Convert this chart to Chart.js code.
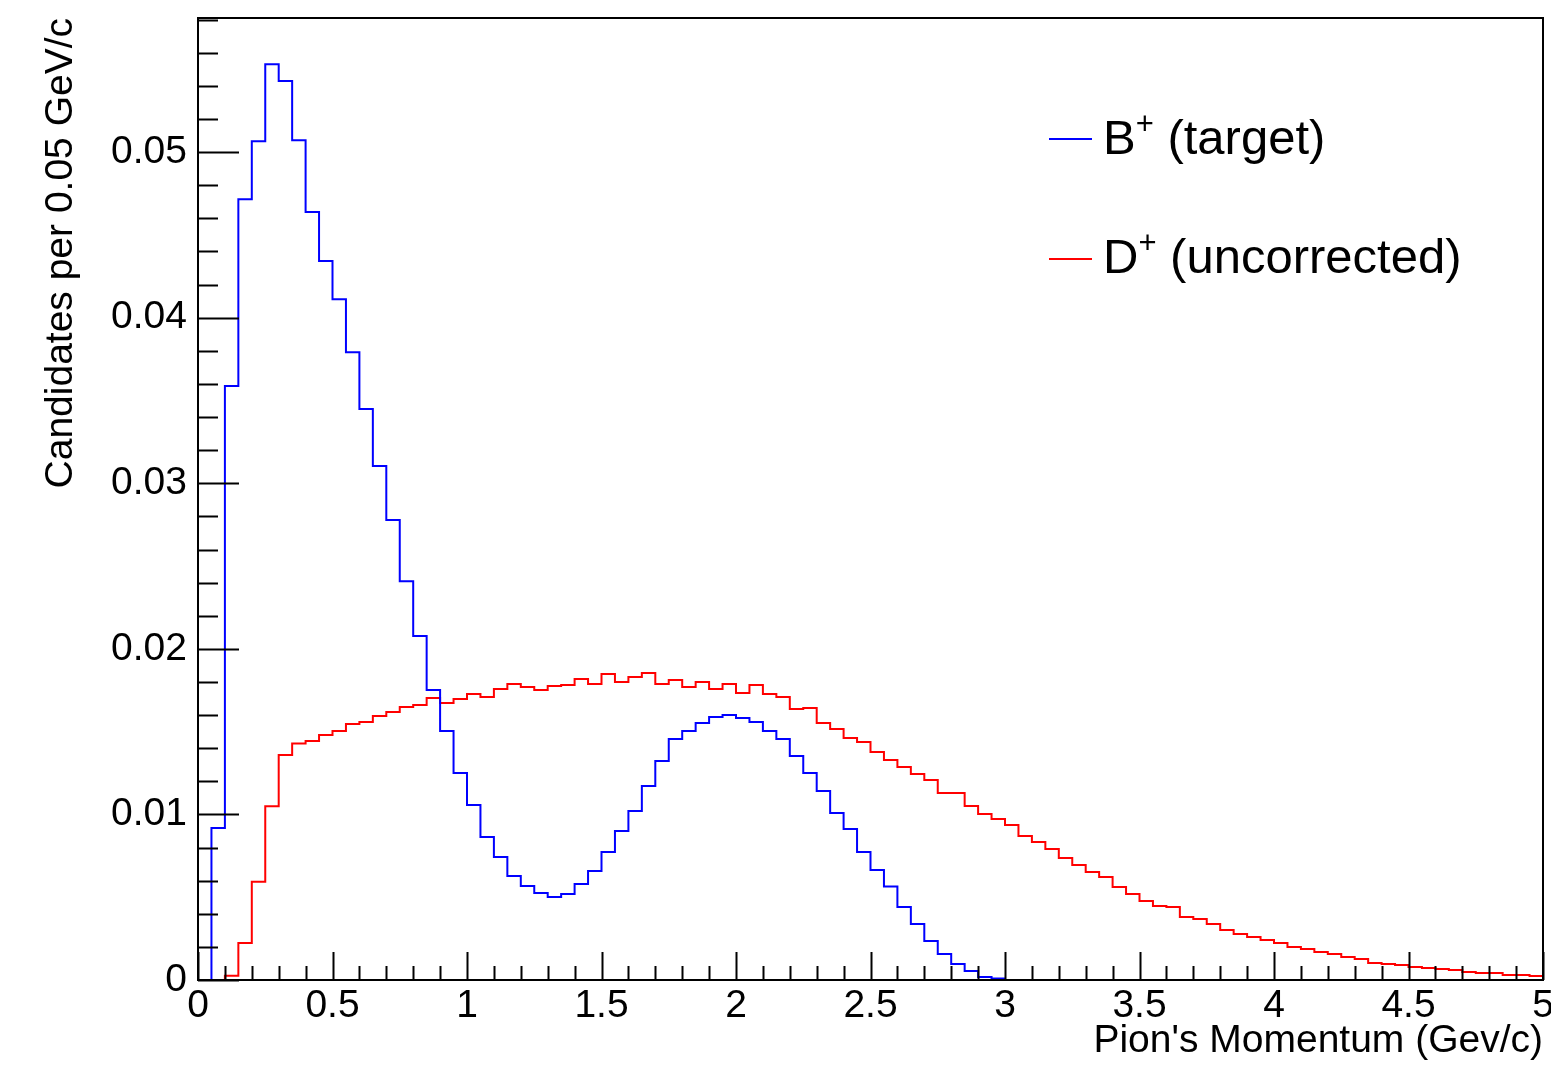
<!DOCTYPE html>
<html>
<head>
<meta charset="utf-8">
<script src="https://cdn.jsdelivr.net/npm/chart.js@4.4.1/dist/chart.umd.min.js"></script>
<style>
  html, body { margin: 0; padding: 0; background: #fff; }
</style>
</head>
<body>
<canvas id="momentumChart" width="1551" height="1066"></canvas>
<script>
// histogram: 100 bins of 0.05 GeV/c from 0 to 5
const binWidth = 0.05;

const targetB = [
  0, 0.00918, 0.03587, 0.04716, 0.05066, 0.05531, 0.05429, 0.05072, 0.04638, 0.04342,
  0.04112, 0.03792, 0.03448, 0.03104, 0.02778, 0.02409, 0.02077, 0.01751, 0.01504, 0.0125,
  0.01057, 0.00864, 0.00743, 0.00628, 0.00568, 0.00525, 0.00501, 0.00519, 0.0058, 0.00658,
  0.00773, 0.009, 0.01021, 0.01171, 0.01322, 0.01455, 0.01504, 0.01552, 0.01588, 0.016,
  0.01582, 0.01558, 0.01504, 0.01455, 0.01353, 0.0125, 0.01141, 0.01008, 0.00912, 0.00773,
  0.00664, 0.00565, 0.00441, 0.00338, 0.00236, 0.00157, 0.00097, 0.00054, 0.00018, 0.00009,
  0, 0, 0, 0, 0, 0, 0, 0, 0, 0,
  0, 0, 0, 0, 0, 0, 0, 0, 0, 0,
  0, 0, 0, 0, 0, 0, 0, 0, 0, 0,
  0, 0, 0, 0, 0, 0, 0, 0, 0, 0
];

const uncorrectedD = [
  0, 0, 0.00025, 0.00224, 0.00593, 0.0105, 0.01359, 0.01428, 0.01443, 0.01479,
  0.01504, 0.01546, 0.01558, 0.01594, 0.01618, 0.01649, 0.01661, 0.01703, 0.01673, 0.01697,
  0.01727, 0.01709, 0.01757, 0.01787, 0.01769, 0.01751, 0.01775, 0.01781, 0.01818, 0.01787,
  0.01848, 0.018, 0.0183, 0.01854, 0.01787, 0.01812, 0.01769, 0.018, 0.01757, 0.01787,
  0.01733, 0.01781, 0.01727, 0.01709, 0.01636, 0.01643, 0.01552, 0.01516, 0.01461, 0.01437,
  0.01377, 0.01329, 0.01286, 0.01244, 0.01208, 0.01129, 0.01129, 0.01051, 0.01002, 0.00972,
  0.00936, 0.0087, 0.00833, 0.00791, 0.00737, 0.00694, 0.00652, 0.00622, 0.00562, 0.00519,
  0.00477, 0.00447, 0.00441, 0.0038, 0.00368, 0.00338, 0.00302, 0.00278, 0.0026, 0.00242,
  0.00223, 0.00199, 0.00187, 0.00169, 0.00157, 0.00139, 0.00127, 0.00103, 0.00097, 0.00091,
  0.00079, 0.00072, 0.00066, 0.0006, 0.00048, 0.00042, 0.00042, 0.0003, 0.0003, 0.00024
];

const xTickValues = [0, 0.5, 1, 1.5, 2, 2.5, 3, 3.5, 4, 4.5, 5];
const yTickValues = [0, 0.01, 0.02, 0.03, 0.04, 0.05];

const seriesNames = ['B', 'D'];
const seriesNotes = [' (target)', ' (uncorrected)'];
const seriesColors = ['#0000ff', '#ff0000'];

const FONT = "'Liberation Sans', Arial, Helvetica, sans-serif";

// bin low edges, plus the upper edge of the last bin
function toSteps(values) {
  const pts = values.map((v, i) => ({ x: i * binWidth, y: v }));
  pts.push({ x: values.length * binWidth, y: values[values.length - 1] });
  return pts;
}

// ROOT style frame with ticks pointing inward
const frameTicks = {
  id: 'frameTicks',
  afterDraw(chart) {
    const { ctx, chartArea: a, scales: { x, y } } = chart;
    ctx.save();
    ctx.strokeStyle = '#000';
    ctx.lineWidth = 2;
    ctx.beginPath();
    for (let k = 0; k <= 50; k++) {
      const px = Math.round(x.getPixelForValue(k * 0.1)) + 0.5;
      const len = k % 5 === 0 ? 28 : 14;
      ctx.moveTo(px, a.bottom);
      ctx.lineTo(px, a.bottom - len);
    }
    for (let k = 0; k * 0.002 <= y.max; k++) {
      const py = Math.round(y.getPixelForValue(k * 0.002)) + 0.5;
      const len = k % 5 === 0 ? 41 : 20;
      ctx.moveTo(a.left, py);
      ctx.lineTo(a.left + len, py);
    }
    ctx.stroke();
    ctx.strokeRect(a.left, a.top, a.right - a.left, a.bottom - a.top);
    ctx.restore();
  }
};

// legend with superscript charge
const rootLegend = {
  id: 'rootLegend',
  afterDraw(chart) {
    const ctx = chart.ctx;
    ctx.save();
    ctx.textBaseline = 'alphabetic';
    ctx.textAlign = 'left';
    seriesNames.forEach((name, i) => {
      const lineY = 139 + i * 120;
      const base = 154 + i * 119;
      ctx.strokeStyle = seriesColors[i];
      ctx.lineWidth = 2;
      ctx.beginPath();
      ctx.moveTo(1049, lineY);
      ctx.lineTo(1092, lineY);
      ctx.stroke();
      ctx.fillStyle = '#000';
      let tx = 1103;
      ctx.font = '49px ' + FONT;
      ctx.fillText(name, tx, base);
      tx += ctx.measureText(name).width;
      ctx.font = '31px ' + FONT;
      ctx.fillText('+', tx, base - 20);
      tx += ctx.measureText('+').width;
      ctx.font = '49px ' + FONT;
      ctx.fillText(seriesNotes[i], tx, base);
    });
    ctx.restore();
  }
};

const ctx = document.getElementById('momentumChart').getContext('2d');

const momentumChart = new Chart(ctx, {
  type: 'line',
  data: {
    datasets: [
      {
        label: 'B+ (target)',
        data: toSteps(targetB),
        borderColor: seriesColors[0],
        borderWidth: 2,
        stepped: true,
        pointRadius: 0,
        fill: false
      },
      {
        label: 'D+ (uncorrected)',
        data: toSteps(uncorrectedD),
        borderColor: seriesColors[1],
        borderWidth: 2,
        stepped: true,
        pointRadius: 0,
        fill: false
      }
    ]
  },
  options: {
    responsive: false,
    animation: false,
    layout: { padding: { top: 18, right: 8, left: 0, bottom: 0 } },
    plugins: {
      legend: { display: false },
      tooltip: { enabled: false }
    },
    scales: {
      x: {
        type: 'linear',
        min: 0,
        max: 5,
        grid: { display: false, drawTicks: false },
        border: { display: false },
        afterBuildTicks: s => { s.ticks = xTickValues.map(v => ({ value: v })); },
        afterFit: s => { s.height = 86; s.paddingLeft = 0; s.paddingRight = 0; },
        ticks: {
          color: '#000',
          padding: 3,
          maxRotation: 0,
          font: { family: FONT, size: 39 },
          callback: v => String(+v.toFixed(2))
        },
        title: {
          display: true,
          text: "Pion's Momentum (Gev/c)",
          align: 'end',
          color: '#000',
          padding: { top: 0, bottom: 1 },
          font: { family: FONT, size: 39 }
        }
      },
      y: {
        min: 0,
        max: 0.0581,
        grid: { display: false, drawTicks: false },
        border: { display: false },
        afterBuildTicks: s => { s.ticks = yTickValues.map(v => ({ value: v })); },
        afterFit: s => { s.width = 198; s.paddingTop = 0; s.paddingBottom = 0; },
        ticks: {
          color: '#000',
          padding: 11,
          font: { family: FONT, size: 39 },
          callback: v => String(+v.toFixed(3))
        },
        title: {
          display: true,
          text: 'Candidates per 0.05 GeV/c',
          align: 'end',
          color: '#000',
          padding: { top: 38, bottom: 0 },
          font: { family: FONT, size: 39 }
        }
      }
    }
  },
  plugins: [frameTicks, rootLegend]
});
</script>
</body>
</html>
